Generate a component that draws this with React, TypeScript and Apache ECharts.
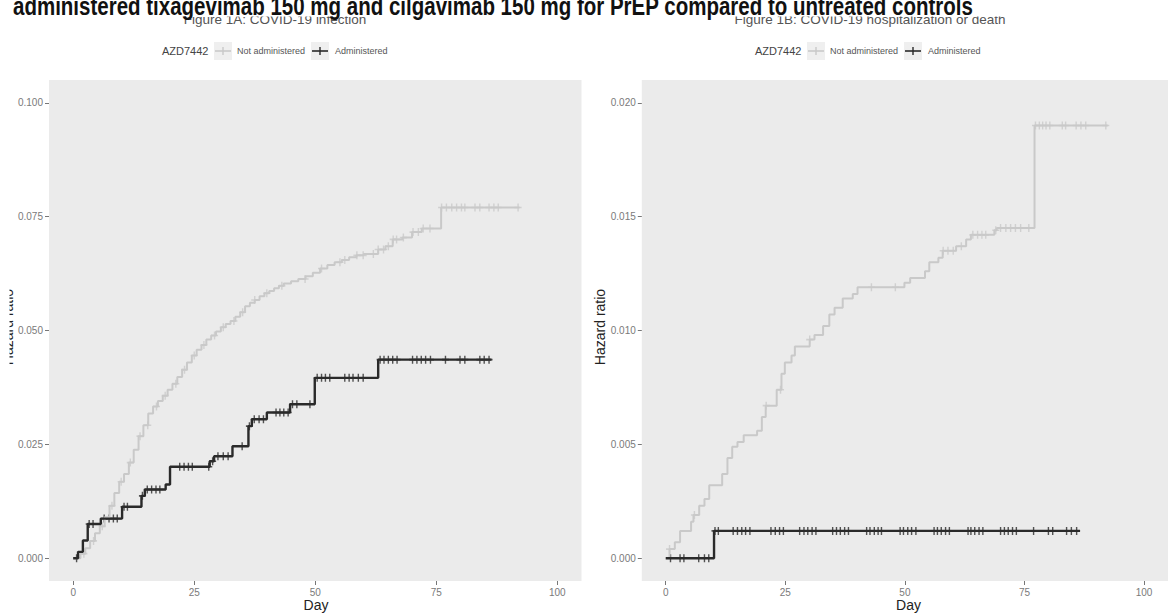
import React, { useEffect, useRef } from "react";
import * as echarts from "echarts";

// Axis tick positions
const dayTicks = [0, 25, 50, 75, 100];
const infectionTicks = [0, 0.025, 0.05, 0.075, 0.1];
const hospitalTicks = [0, 0.005, 0.01, 0.015, 0.02];

// Figure 1A: COVID-19 infection — cumulative hazard steps [day, value]
const infectionNotAdministered: [number, number][] = [
  [0, 0], [1.5, 0.001], [2.5, 0.0022], [3.5, 0.0038], [4.5, 0.0055], [5.5, 0.007],
  [6.5, 0.009], [7.5, 0.0115], [8.5, 0.0143], [9.5, 0.0168], [10.5, 0.0185],
  [11.5, 0.021], [12.5, 0.0238], [13.5, 0.0268], [14.5, 0.0292], [15.5, 0.0318],
  [16.5, 0.0333], [17.5, 0.0345], [18.5, 0.0357], [19.5, 0.037], [20.5, 0.0383],
  [21.5, 0.0398], [22.5, 0.0414], [23.5, 0.043], [24.5, 0.0445], [25.5, 0.0458],
  [26.5, 0.0468], [27.5, 0.048], [28.5, 0.0489], [29.5, 0.0498], [30.5, 0.0507],
  [31.5, 0.0514], [32.5, 0.0521], [33.5, 0.053], [34.5, 0.054], [35.5, 0.0553],
  [36.5, 0.0561], [37.5, 0.0567], [38.5, 0.0575], [39.5, 0.0582], [40.5, 0.0587],
  [41.5, 0.0593], [42.5, 0.0598], [43.5, 0.0603], [45, 0.0608], [46.5, 0.0613],
  [48, 0.0619], [49.5, 0.0627], [51, 0.0636], [52.5, 0.0644], [54, 0.065],
  [55.5, 0.0655], [57, 0.0661], [58.5, 0.0665], [60, 0.0668], [63, 0.0678],
  [64.5, 0.0685], [66, 0.07], [68, 0.0704], [70, 0.0716], [72, 0.0724],
  [76, 0.077], [92.2, 0.077],
];
const infectionNotAdministeredCensored = [
  2.2, 4.2, 6.0, 8.0, 9.9, 11.8, 13.8, 15.4, 17.2, 19.0, 21.2, 23.0, 25.0, 27.0,
  29.2, 31.0, 33.2, 35.0, 37.5, 40.0, 43.1, 47.9, 51.3, 55.1, 56.1, 58.6, 59.9,
  62.0, 63.0, 64.1, 65.1, 66.1, 66.8, 68.2, 70.2, 71.3, 72.3, 73.7, 76.1, 77.1,
  78.2, 79.2, 80.2, 80.9, 83.0, 84.0, 85.9, 86.9, 87.8, 91.9,
];
const infectionAdministered: [number, number][] = [
  [0, 0], [1.0, 0.0014], [2.0, 0.0039], [3.0, 0.0075], [5.7, 0.0087],
  [10.1, 0.0113], [14.1, 0.0137], [14.8, 0.0151], [19.1, 0.0162], [20.0, 0.0201],
  [28.2, 0.0213], [29.1, 0.0224], [32.9, 0.0246], [36.2, 0.029], [36.9, 0.0305],
  [40.0, 0.032], [44.8, 0.0338], [49.9, 0.0396], [63.0, 0.0436], [86.4, 0.0436],
];
const infectionAdministeredCensored = [
  0.7, 3.3, 4.1, 6.4, 7.4, 8.3, 9.1, 10.5, 11.2, 14.3, 15.3, 16.2, 17.1, 17.9,
  22, 22.9, 23.8, 24.6, 28, 28.8, 29.9, 31, 32, 34.9, 36.4, 37.4, 38.4, 39.3,
  41.9, 42.7, 43.5, 44.4, 45.3, 46.2, 48.9, 50.4, 51.3, 52.1, 53, 56.1, 57, 57.8,
  58.9, 59.9, 63.4, 64.2, 65.1, 66, 66.9, 70.1, 71, 71.9, 72.8, 73.8, 76.9, 79.9,
  80.9, 84, 84.9, 85.9,
];

// Figure 1B: COVID-19 hospitalization or death
const hospitalNotAdministered: [number, number][] = [
  [0.2, 0], [0.8, 0.0004], [1.9, 0.0007], [3.0, 0.0012], [5.3, 0.0016],
  [5.8, 0.0019], [7.0, 0.0023], [8.1, 0.0026], [9.1, 0.0032], [11.8, 0.0037],
  [12.9, 0.0044], [13.9, 0.0049], [15.0, 0.0051], [16.3, 0.0054], [19.1, 0.0056],
  [20.1, 0.0062], [20.9, 0.0067], [23.2, 0.0074], [24.2, 0.0081], [24.9, 0.0086],
  [26.3, 0.0089], [27.0, 0.0093], [30.1, 0.0096], [31.1, 0.0098], [32.9, 0.0102],
  [34.2, 0.0107], [35.3, 0.011], [37.0, 0.0114], [39.1, 0.0116], [40.1, 0.0119],
  [49.9, 0.0121], [51.1, 0.0123], [54.2, 0.0126], [55.1, 0.013], [57.0, 0.0132],
  [57.9, 0.0135], [60.7, 0.0137], [62.8, 0.014], [63.8, 0.0142], [68.7, 0.0144],
  [69.2, 0.0145], [77.1, 0.019], [92.4, 0.019],
];
const hospitalNotAdministeredCensored = [
  0.8, 6, 21, 24, 30.1, 43, 48, 58, 59, 60.1, 61.8, 64.2, 65.2, 66.1, 66.9, 69,
  70, 71.1, 72.1, 73.1, 74.2, 75.9, 77.3, 78.1, 78.8, 79.5, 80.3, 82.9, 83.6,
  85.8, 86.8, 87.8, 92,
];
const hospitalAdministered: [number, number][] = [
  [0, 0], [10.1, 0.0012], [86.6, 0.0012],
];
const hospitalAdministeredCensored = [
  1, 3, 3.8, 6.9, 8.1, 9, 10.3, 11, 14.1, 15, 15.9, 16.7, 17.6, 22, 22.9, 23.8,
  24.6, 28, 28.9, 29.7, 30.6, 31.4, 34.9, 35.7, 36.5, 37.4, 38.2, 42, 42.7, 43.6,
  44.4, 45.1, 49, 49.7, 50.6, 51.4, 52.3, 56.1, 56.8, 57.6, 58.5, 59.3, 63.2,
  63.8, 64.6, 65.5, 66.3, 70, 70.8, 71.6, 72.5, 73.3, 76.9, 80, 80.9, 83.8, 84.8,
  85.9,
];

const GREY = "#c9c9c9";
const BLACK = "#2a2a2a";
const FONT = "'Liberation Sans', Arial, sans-serif";
const PLUS = "path://M4,0L6,0L6,4L10,4L10,6L6,6L6,10L4,10L4,6L0,6L0,4L4,4Z";

// value of a step curve at a given day
function stepAt(curve: [number, number][], day: number): number {
  let v = curve[0][1];
  for (const [d, y] of curve) {
    if (d <= day) v = y;
    else break;
  }
  return v;
}

function stepSeries(curve: [number, number][], color: string, width: number, idx: number) {
  return {
    type: "line",
    step: "end",
    xAxisIndex: idx,
    yAxisIndex: idx,
    data: curve,
    symbol: "none",
    lineStyle: { color, width },
    silent: true,
  };
}

function censorSeries(curve: [number, number][], days: number[], color: string, idx: number) {
  return {
    type: "scatter",
    xAxisIndex: idx,
    yAxisIndex: idx,
    data: days.map((d) => [d, stepAt(curve, d)]),
    symbol: PLUS,
    symbolSize: [7, 8],
    itemStyle: { color },
    silent: true,
  };
}

function xAxisCfg(idx: number) {
  return {
    type: "value",
    gridIndex: idx,
    min: -5,
    max: 105,
    axisLine: { show: false, onZero: false },
    axisTick: { show: true, length: 4, customValues: dayTicks, lineStyle: { color: "#777" } },
    axisLabel: { customValues: dayTicks, color: "#7a7a7a", fontSize: 10, margin: 6, fontFamily: FONT },
    splitLine: { show: false },
  };
}

function yAxisCfg(idx: number, min: number, max: number, ticks: number[]) {
  return {
    type: "value",
    gridIndex: idx,
    min,
    max,
    axisLine: { show: false, onZero: false },
    axisTick: { show: true, length: 4, customValues: ticks, lineStyle: { color: "#777" } },
    axisLabel: {
      customValues: ticks,
      color: "#7a7a7a",
      fontSize: 10,
      margin: 6,
      fontFamily: FONT,
      formatter: (v: number) => v.toFixed(3),
    },
    splitLine: { show: false },
  };
}

function text(x: number, y: number, str: string, size: number, color: string, opts: any = {}) {
  return {
    type: "text",
    x,
    y,
    z: opts.z ?? 10,
    rotation: opts.rotation ?? 0,
    scaleX: opts.scaleX ?? 1,
    style: {
      text: str,
      fill: color,
      fontSize: size,
      fontFamily: FONT,
      fontWeight: opts.bold ? "bold" : "normal",
      align: opts.align ?? "left",
      verticalAlign: "middle",
    },
  };
}

function legendKey(x: number, y: number, color: string) {
  return {
    type: "group",
    x,
    y,
    z: 10,
    children: [
      { type: "rect", shape: { x: 0, y: -9, width: 18, height: 18 }, style: { fill: "#efefef" } },
      { type: "line", shape: { x1: 1, y1: 0, x2: 17, y2: 0 }, style: { stroke: color, lineWidth: 1.6 } },
      { type: "line", shape: { x1: 9, y1: -4, x2: 9, y2: 4 }, style: { stroke: color, lineWidth: 1.4 } },
    ],
  };
}

function legend(x0: number, y: number) {
  return [
    text(x0, y, "AZD7442", 11, "#444"),
    legendKey(x0 + 52, y, GREY),
    text(x0 + 75, y, "Not administered", 9, "#555"),
    legendKey(x0 + 149, y, BLACK),
    text(x0 + 173, y, "Administered", 9, "#555"),
  ];
}

const option = {
  animation: false,
  textStyle: { fontFamily: FONT },
  grid: [
    { left: 49, top: 80, width: 532.5, height: 501, show: true, backgroundColor: "#ebebeb", borderWidth: 0 },
    { left: 641.8, top: 80, width: 532.4, height: 501, show: true, backgroundColor: "#ebebeb", borderWidth: 0 },
  ],
  xAxis: [xAxisCfg(0), xAxisCfg(1)],
  yAxis: [
    yAxisCfg(0, -0.005, 0.105, infectionTicks),
    yAxisCfg(1, -0.001, 0.021, hospitalTicks),
  ],
  series: [
    stepSeries(infectionNotAdministered, GREY, 2, 0),
    censorSeries(infectionNotAdministered, infectionNotAdministeredCensored, GREY, 0),
    stepSeries(infectionAdministered, BLACK, 2.4, 0),
    censorSeries(infectionAdministered, infectionAdministeredCensored, BLACK, 0),
    stepSeries(hospitalNotAdministered, GREY, 2, 1),
    censorSeries(hospitalNotAdministered, hospitalNotAdministeredCensored, GREY, 1),
    stepSeries(hospitalAdministered, BLACK, 2.4, 1),
    censorSeries(hospitalAdministered, hospitalAdministeredCensored, BLACK, 1),
  ],
  graphic: [
    // panel titles
    text(275, 19.5, "Figure 1A: COVID-19 infection", 13.5, "#555", { align: "center" }),
    text(870, 19.5, "Figure 1B: COVID-19 hospitalization or death", 13.5, "#555", { align: "center" }),
    // header strip behind the main title
    { type: "rect", z: 11, shape: { x: 0, y: 0, width: 1168, height: 16.5 }, style: { fill: "#fff" } },
    text(13, 6.5, "administered tixagevimab 150 mg and cilgavimab 150 mg for PrEP compared to untreated controls", 25, "#111", { bold: true, scaleX: 0.82, z: 12 }),
    ...legend(162, 51),
    ...legend(755, 51),
    // axis titles
    text(7.5, 327, "Hazard ratio", 14, "#222", { align: "center", rotation: Math.PI / 2 }),
    { type: "rect", z: 11, shape: { x: 0, y: 250, width: 9.5, height: 160 }, style: { fill: "#fff" } },
    text(600, 327, "Hazard ratio", 14, "#222", { align: "center", rotation: Math.PI / 2 }),
    text(316, 605, "Day", 14, "#222", { align: "center" }),
    text(908.5, 605, "Day", 14, "#222", { align: "center" }),
  ],
};

export default function App() {
  const ref = useRef<HTMLDivElement>(null);
  useEffect(() => {
    if (!ref.current) return;
    const chart = echarts.init(ref.current, null, { renderer: "svg" });
    chart.setOption(option as any);
    return () => chart.dispose();
  }, []);
  return (
    <div
      ref={ref}
      style={{ position: "absolute", left: 0, top: 0, width: 1168, height: 613, background: "#fff" }}
    />
  );
}
